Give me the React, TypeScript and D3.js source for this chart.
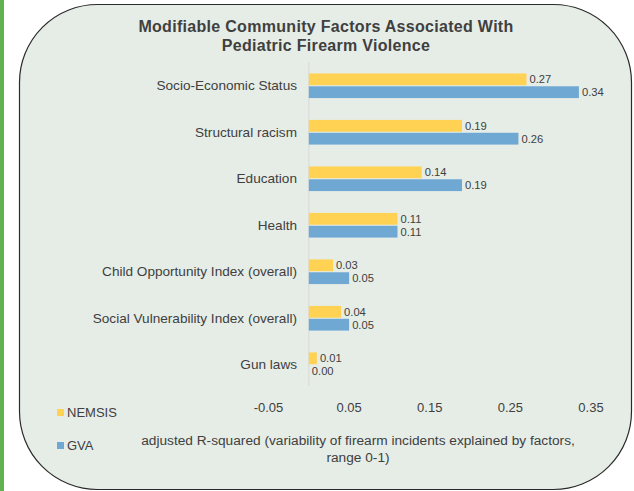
import { useEffect } from 'react';
import * as d3 from 'd3';

const categories = [
  'Socio-Economic Status',
  'Structural racism',
  'Education',
  'Health',
  'Child Opportunity Index (overall)',
  'Social Vulnerability Index (overall)',
  'Gun laws',
];
const nemsisValues = [0.27, 0.19, 0.14, 0.11, 0.03, 0.04, 0.01];
const gvaValues = [0.335, 0.26, 0.19, 0.11, 0.05, 0.05, 0.0];
const tickValues = [-0.05, 0.05, 0.15, 0.25, 0.35];
const seriesNames = ['NEMSIS', 'GVA'];

const W = 634;
const H = 491;
const FONT = '"Liberation Sans", Arial, sans-serif';
const TEXT = '#404040';
const YELLOW = '#ffd254';
const BLUE = '#70a8d4';

export default function App() {
  useEffect(() => {
    document.body.style.margin = '0';
  }, []);

  const x = d3.scaleLinear().domain([-0.05, 0.35]).range([268.5, 591]);
  const y = d3.scaleBand<string>().domain(categories).range([62.5, 388]);
  const inner = d3.scaleBand<string>().domain(seriesNames).range([0, y.bandwidth()]).paddingInner(0.08).paddingOuter(0.85);
  const series = [nemsisValues, gvaValues];
  const colors = [YELLOW, BLUE];

  return (
    <svg width={W} height={H} style={{ display: 'block', fontFamily: FONT }}>
      <rect x={0} y={0} width={W} height={H} fill="#ffffff" />
      <rect x={0} y={0} width={4} height={H} fill="#62b14f" />
      <rect x={19.5} y={4.5} width={612} height={485} rx={78} ry={78} fill="#e6ede6" stroke="#2a2a2a" strokeWidth={1.2} />

      <text x={326} y={31.5} textAnchor="middle" fontSize={16} letterSpacing={0.3} fontWeight="bold" fill={TEXT}>
        Modifiable Community Factors Associated With
      </text>
      <text x={326} y={50.5} textAnchor="middle" fontSize={16} letterSpacing={0.3} fontWeight="bold" fill={TEXT}>
        Pediatric Firearm Violence
      </text>

      <line x1={x(0)} x2={x(0)} y1={62} y2={386} stroke="#d9d9d9" strokeWidth={1} />

      {categories.map((c, i) => (
        <g key={c}>
          <text x={297} y={(y(c) ?? 0) + y.bandwidth() / 2 + 4.5} textAnchor="end" fontSize={13.6} fill={TEXT}>
            {c}
          </text>
          {series.map((vals, s) => {
            const by = (y(c) ?? 0) + (inner(seriesNames[s]) ?? 0);
            const bh = inner.bandwidth();
            return (
              <g key={s}>
                <rect x={x(0)} y={by} width={Math.max(0, x(vals[i]) - x(0))} height={bh} fill={colors[s]} />
                <text x={x(vals[i]) + 3} y={by + bh / 2 + 4} fontSize={11.2} fill={TEXT}>
                  {vals[i].toFixed(2)}
                </text>
              </g>
            );
          })}
        </g>
      ))}

      {tickValues.map((t) => (
        <text key={t} x={x(t)} y={412} textAnchor="middle" fontSize={13} fill={TEXT}>
          {t.toFixed(2)}
        </text>
      ))}

      <text x={358} y={445} textAnchor="middle" fontSize={13.7} fill={TEXT}>
        adjusted R-squared (variability of firearm incidents explained by factors,
      </text>
      <text x={358} y={462} textAnchor="middle" fontSize={13.7} fill={TEXT}>
        range 0-1)
      </text>

      {seriesNames.map((n, i) => (
        <g key={n} transform={`translate(57,${412.5 + i * 33})`}>
          <rect x={0} y={-3.5} width={7} height={7} fill={colors[i]} />
          <text x={10} y={4.5} fontSize={13} fill={TEXT}>
            {n}
          </text>
        </g>
      ))}
    </svg>
  );
}
